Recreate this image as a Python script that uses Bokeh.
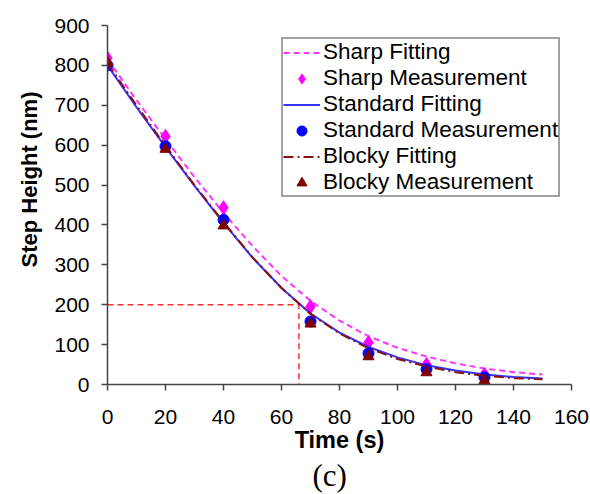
from bokeh.plotting import figure
from bokeh.models import Legend, LegendItem, Range1d, Title, FixedTicker
from bokeh.embed import file_html
from bokeh.resources import INLINE

# Fitting curves
fit_time = [0, 10, 20, 30, 40, 50, 60, 70, 80, 90, 100, 110, 120, 130, 140, 150]
sharp_fit = [815, 713, 615, 520, 430, 347, 272, 210, 160, 121, 92, 70, 53, 40, 31, 25]
standard_fit = [800, 695, 595, 498, 405, 318, 242, 178, 130, 94, 68, 48, 35, 25, 19, 15]
blocky_fit = [805, 700, 598, 500, 407, 319, 242, 177, 128, 91, 64, 45, 31, 22, 16, 13]

# Measurements
meas_time = [0, 20, 40, 70, 90, 110, 130]
sharp_meas = [818, 622, 443, 195, 105, 50, 25]
standard_meas = [800, 597, 413, 158, 78, 38, 18]
blocky_meas = [808, 590, 398, 152, 70, 30, 10]

# Reference guide: 200 nm reached at ~66 s
guide_x = [0, 66, 66]
guide_y = [200, 200, 0]

x_ticks = [0, 20, 40, 60, 80, 100, 120, 140, 160]
y_ticks = [0, 100, 200, 300, 400, 500, 600, 700, 800, 900]

p = figure(width=590, height=494, output_backend="svg", toolbar_location=None,
           x_range=Range1d(0, 160), y_range=Range1d(0, 900),
           min_border_left=107, min_border_right=19, min_border_top=25,
           min_border_bottom=110)
p.outline_line_color = None
p.xgrid.visible = False
p.ygrid.visible = False
p.background_fill_color = "white"
p.border_fill_color = "white"

for ax in (p.xaxis[0], p.yaxis[0]):
    ax.axis_line_color = "#444444"
    ax.axis_line_width = 1.5
    ax.major_tick_line_color = "#444444"
    ax.major_tick_line_width = 1.5
    ax.major_tick_out = 6
    ax.major_tick_in = 0
    ax.minor_tick_line_color = None
    ax.major_label_text_font = "Liberation Sans"
    ax.major_label_text_font_size = "21px"
    ax.major_label_text_color = "black"
    ax.axis_label_text_font = "Liberation Sans"
    ax.axis_label_text_font_style = "bold"
    ax.axis_label_text_color = "black"

p.yaxis.major_label_standoff = 12
p.xaxis.major_label_standoff = 19
p.xaxis.ticker = FixedTicker(ticks=x_ticks)
p.yaxis.ticker = FixedTicker(ticks=y_ticks)
p.xaxis.axis_label = "Time (s)"
p.xaxis.axis_label_text_font_size = "23.5px"
p.xaxis.axis_label_standoff = 0

# y title as a side title so it can sit a little above the axis centre
ytitle = Title(text="Step Height (nm)", align="left", offset=117, standoff=19,
               text_font="Liberation Sans", text_font_size="22px",
               text_font_style="bold", text_color="black")
p.add_layout(ytitle, "left")

p.line(guide_x, guide_y, line_color="#FF3030", line_width=1.5, line_dash="6 4")

r_sf = p.line(fit_time, sharp_fit, line_color="#FF33FF", line_width=2, line_dash="6 4")
r_sm = p.scatter(meas_time, sharp_meas, marker="diamond", size=14, fill_color="#FF00FF",
                 line_color="#FF00FF")
r_tf = p.line(fit_time, standard_fit, line_color="#3333FF", line_width=2)
r_tm = p.scatter(meas_time, standard_meas, marker="circle", size=11, fill_color="#0000FF",
                 line_color="#0000FF")
r_bf = p.line(fit_time, blocky_fit, line_color="#8B1010", line_width=2, line_dash="10 4 2 4")
r_bm = p.scatter(meas_time, blocky_meas, marker="triangle", size=11, fill_color="#800000",
                 line_color="#800000")

legend = Legend(items=[
    LegendItem(label="Sharp Fitting", renderers=[r_sf]),
    LegendItem(label="Sharp Measurement", renderers=[r_sm]),
    LegendItem(label="Standard Fitting", renderers=[r_tf]),
    LegendItem(label="Standard Measurement", renderers=[r_tm]),
    LegendItem(label="Blocky Fitting", renderers=[r_bf]),
    LegendItem(label="Blocky Measurement", renderers=[r_bm]),
], location=(174, 187))
legend.label_text_font = "Liberation Sans"
legend.label_text_font_size = "22.5px"
legend.label_text_color = "black"
legend.glyph_width = 37
legend.glyph_height = 25
legend.label_height = 25
legend.label_standoff = 3
legend.spacing = 0
legend.padding = 0
legend.margin = 0
legend.border_line_color = "#444444"
legend.border_line_width = 2
legend.background_fill_alpha = 1
p.add_layout(legend, "center")

cap = Title(text="(c)", align="left", offset=205, standoff=0, text_font="Liberation Serif",
            text_font_size="31px", text_font_style="normal", text_color="black")
p.add_layout(cap, "below")

open("out.html", "w").write(file_html(p, INLINE))
